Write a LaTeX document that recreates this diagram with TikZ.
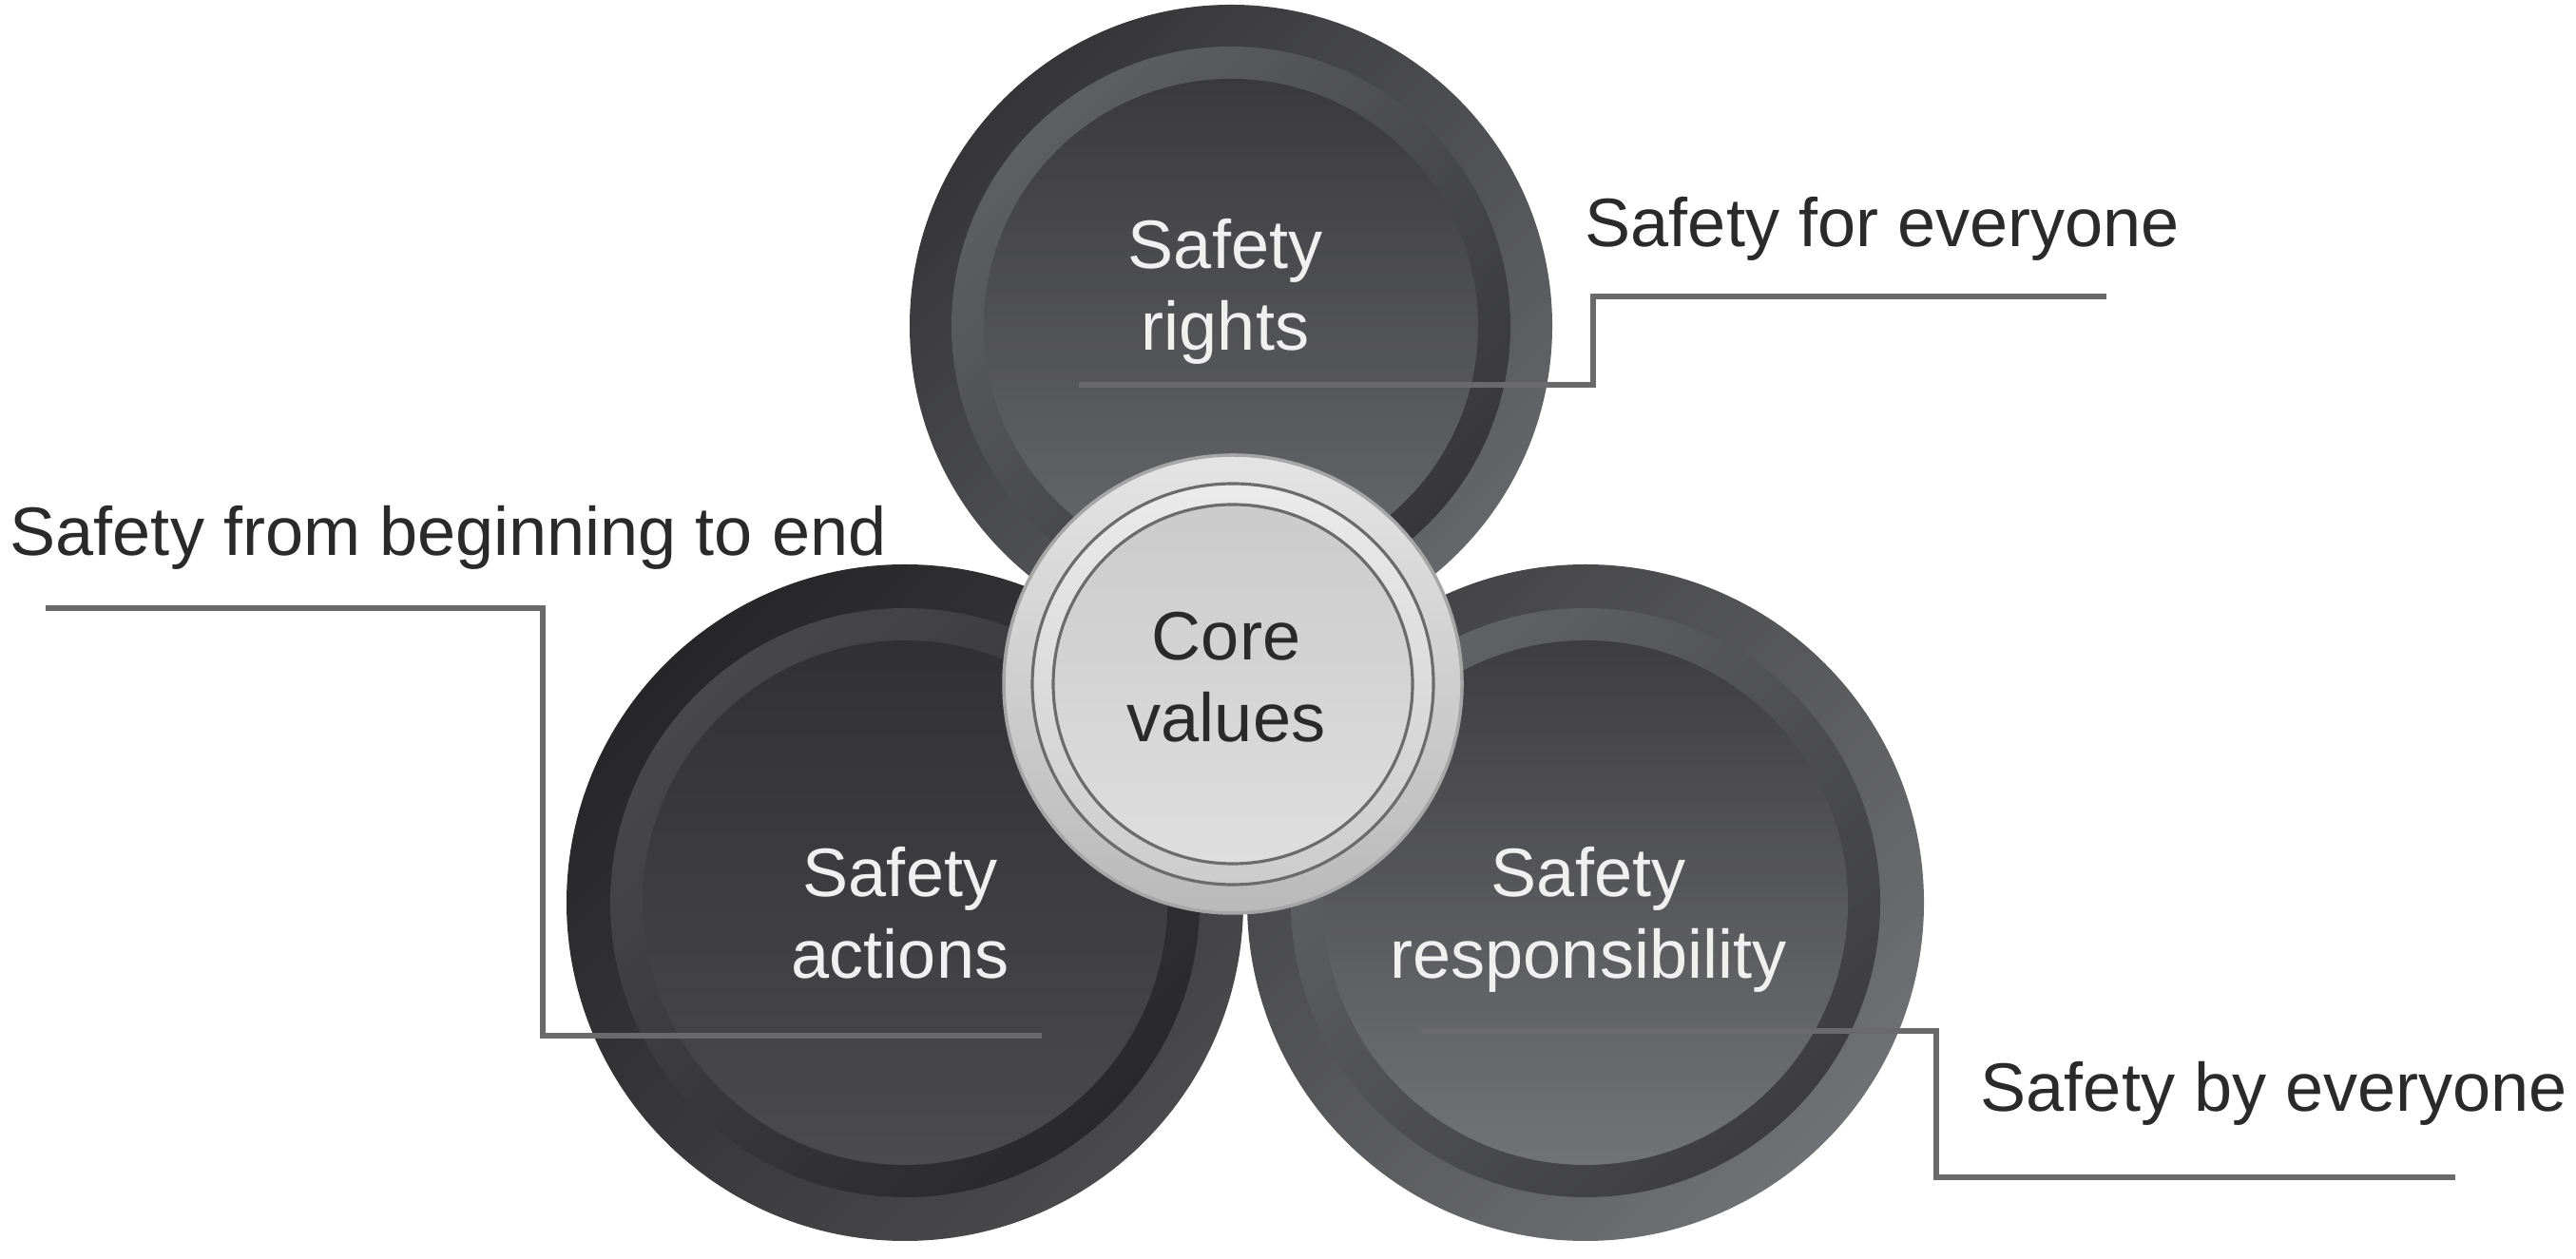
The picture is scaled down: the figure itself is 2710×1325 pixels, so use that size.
\documentclass[tikz,border=0pt]{standalone}
\usepackage{fontspec}
\setmainfont{Liberation Sans}
\usepackage{xcolor}
\usepackage{tikz}
\usetikzlibrary{positioning}

\definecolor{rightsout1}{HTML}{353538}
\definecolor{rightsout2}{HTML}{65666A}
\definecolor{rightsring1}{HTML}{5E5F62}
\definecolor{rightsring2}{HTML}{37373A}
\definecolor{rightsin1}{HTML}{3A3A3D}
\definecolor{rightsin2}{HTML}{68696C}
\definecolor{actout1}{HTML}{262628}
\definecolor{actout2}{HTML}{4A4A4D}
\definecolor{actring1}{HTML}{48484B}
\definecolor{actring2}{HTML}{29292B}
\definecolor{actin1}{HTML}{313133}
\definecolor{actin2}{HTML}{4B4B4E}
\definecolor{respout1}{HTML}{434346}
\definecolor{respout2}{HTML}{707174}
\definecolor{respring1}{HTML}{626366}
\definecolor{respring2}{HTML}{3D3D40}
\definecolor{respin1}{HTML}{3E3E41}
\definecolor{respin2}{HTML}{727376}
\definecolor{coreout1}{HTML}{E4E4E4}
\definecolor{coreout2}{HTML}{B9B9B9}
\definecolor{corein1}{HTML}{CBCBCB}
\definecolor{corein2}{HTML}{DEDEDE}
\definecolor{leadgray}{HTML}{6A6A6C}
\definecolor{inktext}{HTML}{2A2A2A}

\begin{document}
\begin{tikzpicture}[x=0.01cm, y=0.01cm,
        every node/.style={font=\fontsize{20.5}{24.5}\selectfont},
        disc/.style={circle, inner sep=0pt, minimum size=2*#1*0.01cm},
        disctext/.style={align=center, text=white!94!black, inner sep=0pt},
        core/.style={circle, inner sep=0pt, minimum size=482*0.01cm, draw=black!35, line width=1pt,
            top color=coreout1, bottom color=coreout2},
        coreline/.style={draw=black!58, line width=0.9pt},
        note/.style={text=inktext, inner sep=0pt, anchor=base west},
        leader/.style={draw=leadgray, line width=1.6pt}]
        \useasboundingbox (0,0) rectangle (2710,1325);

        % top disc
        \node[disc=338, top color=rightsout1, bottom color=rightsout2, shading angle=45] (rights) at (1295,982) {};
        \shade[top color=rightsring1, bottom color=rightsring2, shading angle=45] (rights.center) circle (294);
        \shade[top color=rightsin1, bottom color=rightsin2] (rights.center) circle (260);

        % left disc
        \node[disc=356, top color=actout1, bottom color=actout2, shading angle=45] (actions) at (952,375) {};
        \shade[top color=actring1, bottom color=actring2, shading angle=45] (actions.center) circle (310);
        \shade[top color=actin1, bottom color=actin2] (actions.center) circle (276);

        % right disc
        \node[disc=356, top color=respout1, bottom color=respout2, shading angle=45] (resp) at (1668,375) {};
        \shade[top color=respring1, bottom color=respring2, shading angle=45] (resp.center) circle (310);
        \shade[top color=respin1, bottom color=respin2] (resp.center) circle (276);

        % leaders
        \coordinate (forstart) at (1135,920);
        \coordinate (forend) at (2216,1013);
        \coordinate (fromstart) at (1096,235);
        \coordinate (fromend) at (48,685);
        \coordinate (bystart) at (1495,240);
        \coordinate (byend) at (2583,86);
        \draw[leader] (forstart) -- ++(541,0) |- (forend);
        \draw[leader] (fromstart) -- ++(-525,0) |- (fromend);
        \draw[leader] (bystart) -- ++(542,0) |- (byend);

        % core
        \node[core] (core) at (1297,605) {};
        \draw[coreline, top color=white!92!black, bottom color=white!80!black] (core.center) circle (211);
        \draw[coreline, top color=corein1, bottom color=corein2] (core.center) circle (189);

        \node[disctext] (rightstext) at (1289,1018) {Safety\\rights};
        \node[disctext] (actionstext) at (947,364) {Safety\\actions};
        \node[disctext] (resptext) at (1671,357) {Safety\\responsibility};
        \node[disctext, text=inktext] (coretext) at (1290,612) {Core\\values};

        \node[note] (forlbl) at (1667,1065) {Safety for everyone};
        \node[note] (fromlbl) at (10,740) {Safety from beginning to end};
        \node[note] (bylbl) at (2083,155) {Safety by everyone};
    \end{tikzpicture}
\end{document}
